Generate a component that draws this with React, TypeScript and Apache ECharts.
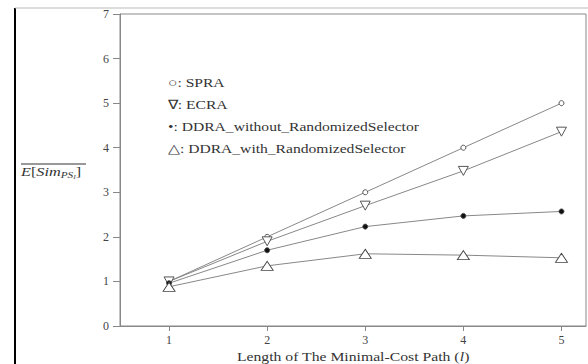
import React, { useEffect, useRef } from "react";
import * as echarts from "echarts";

const xValues = [1, 2, 3, 4, 5];
const spra = [1.0, 2.0, 3.0, 4.0, 5.0];
const ecra = [1.0, 1.9, 2.7, 3.48, 4.36];
const ddraWithout = [0.96, 1.7, 2.23, 2.47, 2.57];
const ddraWith = [0.88, 1.35, 1.62, 1.59, 1.53];
const seriesNames = [
  "SPRA",
  "ECRA",
  "DDRA_without_RandomizedSelector",
  "DDRA_with_RandomizedSelector",
];
const legendMarks = ["○", "∇", "•", "△"];
const xAxisTitle = "Length of The Minimal-Cost Path ({i|l})";

const FONT = "Liberation Serif";

export default function App() {
  const ref = useRef<HTMLDivElement>(null);
  useEffect(() => {
    if (!ref.current) return;
    const chart = echarts.init(ref.current, undefined, { renderer: "svg" });
    const toData = (ys: number[]) => xValues.map((x, i) => [x, ys[i]]);
    const allSeries = [spra, ecra, ddraWithout, ddraWith];
    const symbols = ["circle", "triangle", "circle", "triangle"];
    const sizes: any[] = [5, [10, 9], 5, [12, 9]];
    const rotates = [0, 180, 0, 0];
    const fills = ["#fff", "#fff", "#111", "#fff"];
    chart.setOption({
      animation: false,
      backgroundColor: "#fff",
      grid: {
        left: 120,
        top: 14,
        right: 2,
        bottom: 38,
        show: true,
        borderColor: "#888",
        borderWidth: 1,
      },
      xAxis: {
        type: "value",
        min: 0.5,
        max: 5.25,
        axisLine: { lineStyle: { color: "#888" } },
        axisTick: { show: true, customValues: xValues, length: 5, lineStyle: { color: "#888" } },
        axisLabel: { customValues: xValues, fontFamily: FONT, fontSize: 12, color: "#444", margin: 8 },
        splitLine: { show: false },
      },
      yAxis: {
        type: "value",
        min: 0,
        max: 7,
        interval: 1,
        axisLine: { show: true, lineStyle: { color: "#888" } },
        axisTick: { show: true, length: 7, lineStyle: { color: "#888" } },
        axisLabel: { fontFamily: FONT, fontSize: 12, color: "#444", margin: 11 },
        splitLine: { show: false },
      },
      series: allSeries.map((ys, i) => ({
        name: seriesNames[i],
        type: "line",
        data: toData(ys),
        symbol: symbols[i],
        symbolSize: sizes[i],
        symbolRotate: rotates[i],
        showAllSymbol: true,
        lineStyle: { color: "#888", width: 1 },
        itemStyle: { color: fills[i], borderColor: "#444", borderWidth: 0.9 },
        z: 3 + i,
      })),
      graphic: [
        { type: "line", shape: { x1: 15, y1: 8, x2: 15, y2: 364 }, style: { stroke: "#000", lineWidth: 2 } },
        { type: "line", shape: { x1: 15, y1: 8, x2: 588, y2: 8 }, style: { stroke: "#bbb", lineWidth: 1 } },
        { type: "line", shape: { x1: 21, y1: 164, x2: 86, y2: 164 }, style: { stroke: "#333", lineWidth: 1 } },
        {
          type: "text",
          x: 21,
          y: 172,
          scaleX: 1.25,
          style: {
            text: "{i|E}{n|[}{i|Sim}{s|PS}{ss|l}{n|]}",
            verticalAlign: "middle",
            rich: {
              i: { fontFamily: FONT, fontStyle: "italic", fontSize: 13, fill: "#333" },
              n: { fontFamily: FONT, fontSize: 13, fill: "#333" },
              s: { fontFamily: FONT, fontStyle: "italic", fontSize: 9, fill: "#333", padding: [6, 0, 0, 0] },
              ss: { fontFamily: FONT, fontStyle: "italic", fontSize: 7, fill: "#333", padding: [9, 0, 0, 0] },
            },
          },
        },
        {
          type: "text",
          x: 353,
          y: 356,
          scaleX: 1.21,
          style: {
            text: xAxisTitle,
            fontFamily: FONT,
            fontSize: 13,
            fill: "#333",
            align: "center",
            verticalAlign: "middle",
            rich: {
              i: { fontFamily: FONT, fontStyle: "italic", fontSize: 13, fill: "#333" },
            },
          },
        },
        ...seriesNames.map((name, i) => ({
          type: "text",
          x: 168,
          y: 82 + i * 22,
          scaleX: 1.2,
          style: {
            text: `${legendMarks[i]}: ${name}`,
            fontFamily: FONT,
            fontSize: 13,
            fill: "#333",
            verticalAlign: "middle",
          },
        })),
      ],
    });
    return () => chart.dispose();
  }, []);
  return (
    <div
      ref={ref}
      style={{ position: "fixed", left: 0, top: 0, width: 588, height: 364 }}
    />
  );
}
